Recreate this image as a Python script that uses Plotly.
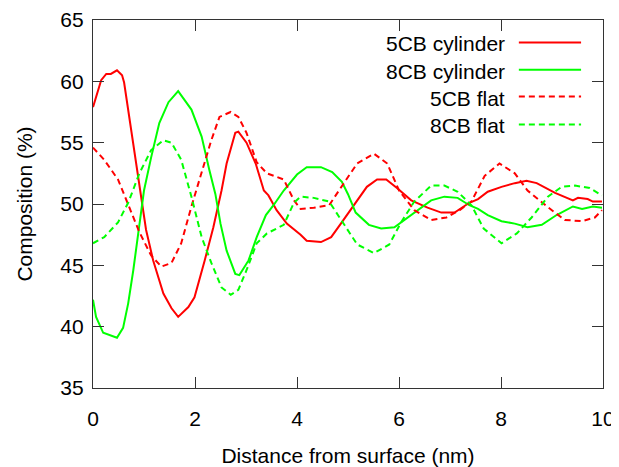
import plotly.graph_objects as go

# 5CB cylinder (red solid)
x_5cb_cyl = [0, 0.16, 0.26, 0.35, 0.47, 0.57, 0.61, 0.71, 0.81, 0.94, 1.04, 1.18, 1.38, 1.54, 1.67, 1.87, 1.99,
             2.19, 2.36, 2.52, 2.62, 2.79, 2.85, 3.01, 3.19, 3.35, 3.44, 3.60, 3.80, 4.07, 4.19, 4.47, 4.67, 4.86,
             5.0, 5.15, 5.37, 5.57, 5.75, 5.96, 6.24, 6.56, 6.83, 7.09, 7.38, 7.55, 7.74, 8.01, 8.27, 8.50, 8.70,
             9.06, 9.41, 9.51, 9.70, 9.80, 9.98]
y_5cb_cyl = [57.9, 60.1, 60.6, 60.6, 60.9, 60.5, 59.9, 57.1, 54.4, 50.6, 47.9, 45.4, 42.7, 41.5, 40.8, 41.6, 42.4,
             45.4, 48.1, 51.1, 53.3, 55.8, 55.9, 55.0, 53.3, 51.1, 50.7, 49.5, 48.4, 47.5, 47.0, 46.9, 47.3, 48.4,
             49.2, 50.1, 51.4, 52.0, 52.0, 51.3, 50.3, 49.7, 49.3, 49.3, 50.1, 50.4, 51.0, 51.4, 51.7, 51.9, 51.7,
             50.9, 50.3, 50.5, 50.4, 50.2, 50.2]

# 8CB cylinder (green solid)
x_8cb_cyl = [0, 0.06, 0.20, 0.32, 0.47, 0.59, 0.69, 0.79, 0.91, 1.00, 1.14, 1.30, 1.48, 1.67, 1.93, 2.13, 2.28,
             2.40, 2.50, 2.62, 2.79, 2.87, 3.05, 3.21, 3.39, 3.54, 3.74, 4.00, 4.19, 4.47, 4.69, 4.88, 5.0, 5.15,
             5.41, 5.65, 5.91, 6.24, 6.63, 6.89, 7.15, 7.38, 7.55, 7.74, 8.01, 8.27, 8.52, 8.80, 9.09, 9.41, 9.59,
             9.80, 9.98]
y_8cb_cyl = [42.2, 40.8, 39.5, 39.3, 39.1, 39.9, 41.9, 44.6, 48.4, 51.1, 53.8, 56.6, 58.3, 59.2, 57.7, 55.5, 52.8,
             50.8, 48.4, 46.2, 44.3, 44.2, 45.4, 47.3, 49.1, 49.9, 51.1, 52.4, 53.0, 53.0, 52.6, 51.8, 50.8, 49.3,
             48.3, 48.0, 48.1, 49.1, 50.3, 50.6, 50.5, 49.9, 49.6, 49.1, 48.6, 48.4, 48.1, 48.3, 49.1, 49.8, 49.6,
             49.8, 49.7]

# 5CB flat (red dashed)
x_5cb_flat = [0, 0.22, 0.49, 0.71, 0.91, 1.14, 1.34, 1.54, 1.73, 1.93, 2.13, 2.32, 2.48, 2.70, 2.85, 3.01, 3.21,
              3.41, 3.74, 3.94, 4.07, 4.33, 4.63, 4.86, 5.0, 5.18, 5.51, 5.77, 6.00, 6.30, 6.63, 6.93, 7.19, 7.42,
              7.68, 7.97, 8.27, 8.52, 8.90, 9.25, 9.59, 9.84, 9.98]
y_5cb_flat = [54.6, 53.6, 52.0, 49.7, 47.7, 45.8, 44.9, 45.2, 46.8, 49.8, 52.5, 55.2, 57.1, 57.5, 57.1, 55.8, 53.4,
              52.5, 52.0, 50.3, 49.6, 49.7, 49.9, 51.4, 52.2, 53.3, 54.1, 53.3, 51.1, 49.5, 48.7, 48.9, 49.5, 50.2,
              52.3, 53.3, 52.5, 51.1, 49.8, 48.7, 48.6, 48.9, 49.5]

# 8CB flat (green dashed)
x_8cb_flat = [0, 0.22, 0.49, 0.69, 0.91, 1.14, 1.38, 1.54, 1.73, 1.93, 2.13, 2.32, 2.52, 2.70, 2.85, 3.01, 3.21,
              3.41, 3.74, 3.94, 4.07, 4.33, 4.63, 4.86, 5.0, 5.18, 5.51, 5.81, 6.04, 6.30, 6.63, 6.89, 7.15, 7.42,
              7.66, 8.01, 8.31, 8.60, 8.92, 9.19, 9.45, 9.74, 9.98]
y_8cb_flat = [46.8, 47.3, 48.5, 50.1, 52.5, 54.4, 55.2, 55.0, 53.6, 50.6, 47.3, 45.2, 43.2, 42.6, 43.0, 44.6, 46.8,
              47.6, 48.3, 50.1, 50.6, 50.5, 50.2, 48.7, 47.8, 46.7, 46.0, 46.7, 48.5, 50.2, 51.5, 51.5, 51.0, 49.9,
              48.0, 46.8, 47.6, 48.9, 50.6, 51.4, 51.5, 51.3, 50.7]

x_ticks = [0, 2, 4, 6, 8, 10]
y_ticks = [35, 40, 45, 50, 55, 60, 65]

names = ["5CB cylinder", "8CB cylinder", "5CB flat", "8CB flat"]
xs = [x_5cb_cyl, x_8cb_cyl, x_5cb_flat, x_8cb_flat]
ys = [y_5cb_cyl, y_8cb_cyl, y_5cb_flat, y_8cb_flat]
colors = ["#ff0000", "#00ff00", "#ff0000", "#00ff00"]
dashes = ["solid", "solid", "6px,4px", "6px,4px"]

FONT = "Liberation Sans, Arial, sans-serif"
FS = 21

fig = go.Figure()
for n, x, y, c, d in zip(names, xs, ys, colors, dashes):
    fig.add_trace(go.Scatter(x=x, y=y, mode="lines", name=n,
                             line=dict(color=c, width=2, dash=d), showlegend=False))

# gnuplot-style legend: right-aligned text, sample line to the right
legend_y = [0.935, 0.861, 0.788, 0.712]
for n, c, d, ly in zip(names, colors, dashes, legend_y):
    fig.add_annotation(x=0.812, y=ly, xref="paper", yref="paper", text=n, showarrow=False,
                       xanchor="right", yanchor="middle", font=dict(size=FS, color="#000", family=FONT))
    fig.add_shape(type="line", xref="paper", yref="paper", x0=0.835, x1=0.957, y0=ly + 0.004, y1=ly + 0.004,
                  line=dict(color=c, width=2, dash=d))

axis_common = dict(showline=True, mirror="allticks", linecolor="#333", linewidth=1.2,
                   ticks="inside", ticklen=11, tickcolor="#333", tickwidth=1.2,
                   showgrid=False, zeroline=False, automargin=False,
                   tickfont=dict(size=FS, color="#000", family=FONT))

fig.update_layout(
    width=611, height=459,
    margin=dict(l=85, r=16, t=12, b=79),
    paper_bgcolor="white", plot_bgcolor="white",
    font=dict(family=FONT, color="#000"),
    xaxis=dict(range=[0, 10], tickvals=x_ticks, ticklabelstandoff=12,
               title=dict(text="Distance from surface (nm)", font=dict(size=FS, family=FONT), standoff=20),
               **axis_common),
    yaxis=dict(range=[35, 65], tickvals=y_ticks, ticklabelstandoff=4,
               title=dict(text="Composition (%)", font=dict(size=FS, family=FONT), standoff=21),
               **axis_common),
)

fig.write_html("out.html")
